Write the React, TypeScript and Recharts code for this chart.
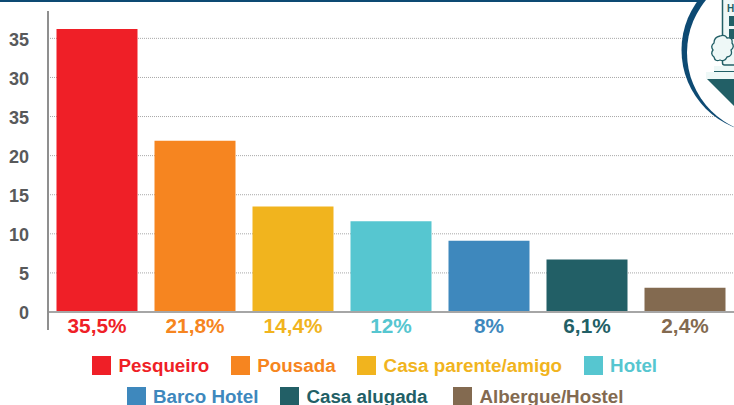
import React from 'react'
import { BarChart, Bar, XAxis, YAxis, CartesianGrid, Cell } from 'recharts'

const categories = ['Pesqueiro', 'Pousada', 'Casa parente/amigo', 'Hotel', 'Barco Hotel', 'Casa alugada', 'Albergue/Hostel']
const values = [36.2, 21.9, 13.5, 11.6, 9.1, 6.7, 3.1]
const shares = ['35,5%', '21,8%', '14,4%', '12%', '8%', '6,1%', '2,4%']
const colors = ['#ef1f27', '#f68520', '#f1b41e', '#56c6d0', '#3e88bd', '#225f66', '#836a50']
const yTicks = [0, 5, 10, 15, 20, 25, 30, 35]
// the source picture really does print 35 where 25 should be
const yLabels = ['0', '5', '10', '15', '20', '35', '30', '35']

const legendRow1 = [0, 1, 2, 3]
const legendRow2 = [4, 5, 6]

const FONT = '"Liberation Sans", Arial, sans-serif'

function ShareTick({ x, y, payload, index }: any) {
  return (
    <text x={x} y={y + 13} textAnchor="middle" fontFamily={FONT} fontWeight={700} fontSize={20.8} fill={colors[index]}>
      {payload.value}
    </text>
  )
}

function LegendRow({ items, top, left }: { items: number[]; top: number; left: number }) {
  return (
    <div style={{ position: 'absolute', top, left, display: 'flex', fontFamily: FONT, fontWeight: 700, fontSize: 18.8, lineHeight: '19px', whiteSpace: 'nowrap' }}>
      {items.map(i => (
        <div key={i} style={{ display: 'flex', alignItems: 'center', marginRight: i === 5 ? 25.5 : 21.5, color: colors[i] }}>
          <div style={{ width: 19, height: 19, marginRight: 7.5, backgroundColor: colors[i] }} />
          <span>{categories[i]}</span>
        </div>
      ))}
    </div>
  )
}

function Logo() {
  return (
    <svg width={734} height={405} style={{ position: 'absolute', left: 0, top: 0 }}>
      <rect x={0} y={0} width={704} height={2} fill="#0d4a73" />
      <circle cx={764.5} cy={50} r={83} fill="#0d4a73" />
      <circle cx={769.3} cy={52.6} r={82.3} fill="#fff" />
      <rect x={722.5} y={-3} width={20} height={68} rx={2} fill="#eef8f7" stroke="#225f66" strokeWidth={1.5} />
      <text x={727} y={12} fontFamily={FONT} fontWeight={700} fontSize={10} fill="#225f66">H</text>
      <rect x={729} y={16} width={6} height={10} fill="#225f66" />
      <rect x={729} y={29} width={6} height={10} fill="#225f66" />
      <path d="M720 36 q5 -2 7 2 q6 -1 5 5 q3 4 -1 7 q2 6 -4 7 q-2 5 -7 3 q-5 2 -6 -3 q-4 -3 -1 -7 q-3 -4 1 -7 q0 -6 6 -7 z" fill="#eef8f7" stroke="#225f66" strokeWidth={1.3} />
      <rect x={714} y={66} width={20} height={5} fill="#eef8f7" />
      <rect x={714} y={71} width={20} height={1} fill="#225f66" />
      <rect x={706} y={72} width={28} height={7} fill="#eef8f7" />
      <path d="M707 79 L734 79 L734 106 Z" fill="#225f66" />
    </svg>
  )
}

export default function App() {
  const data = categories.map((name, i) => ({ name, share: shares[i], value: values[i] }))
  return (
    <div style={{ position: 'absolute', left: 0, top: 0, width: 734, height: 405, overflow: 'hidden', background: '#fff' }}>
      <BarChart width={734} height={340} data={data} margin={{ top: 11, right: 0, left: 0, bottom: 0 }} barCategoryGap={8.5}>
        <CartesianGrid vertical={false} stroke="#a8a8a8" strokeDasharray="1 1" horizontalValues={yTicks} />
        <XAxis
          dataKey="share"
          axisLine={{ stroke: '#a6a6a6', strokeWidth: 2 }}
          tickLine={false}
          interval={0}
          height={28}
          tick={<ShareTick />}
        />
        <YAxis
          width={48}
          domain={[0, 38.5]}
          ticks={yTicks}
          axisLine={{ stroke: '#8f8f8f', strokeWidth: 2 }}
          tickLine={false}
          tick={{ fill: '#58595b', fontFamily: FONT, fontWeight: 700, fontSize: 18, dx: -11, dy: 1 }}
          tickFormatter={(v: number) => yLabels[yTicks.indexOf(v)]}
        />
        <Bar dataKey="value" isAnimationActive={false}>
          {data.map((d, i) => (
            <Cell key={d.name} fill={colors[i]} />
          ))}
        </Bar>
      </BarChart>
      <div style={{ position: 'absolute', left: 47, top: 312, width: 2, height: 18, background: '#8f8f8f' }} />
      <Logo />
      <LegendRow items={legendRow1} top={356} left={92} />
      <LegendRow items={legendRow2} top={387} left={126.5} />
    </div>
  )
}
